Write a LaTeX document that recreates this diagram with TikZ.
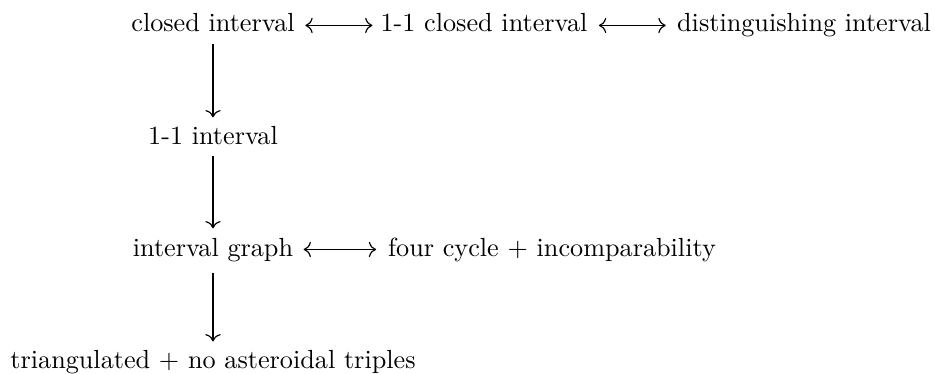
\documentclass[tikz,border=0pt]{standalone}
\usetikzlibrary{cd}
\begin{document}
\begin{tikzpicture}[x=0.3817pt,y=-0.3817pt,
  lbl/.style={inner sep=0pt,text height=6.94pt,text depth=1.94pt,font=\normalsize},
  dbl/.style={{cm to}-{cm to},line width=0.45pt},
  sgl/.style={-{cm to},line width=0.45pt}]
\useasboundingbox (0,0) rectangle (935,374);
\node[lbl,anchor=base] (A) at (213,32) {closed interval};
\node[lbl,anchor=base] (B) at (484,32) {1-1 closed interval};
\node[lbl,anchor=base] (C) at (804,32) {distinguishing interval};
\node[lbl,anchor=base] (D) at (213,145) {1-1 interval};
\node[lbl,anchor=base] (E) at (213,256) {interval graph};
\node[lbl,anchor=base] (F) at (552,256) {four cycle $+$ incomparability};
\node[lbl,anchor=base] (G) at (213,368) {triangulated $+$ no asteroidal triples};
\draw[dbl,shorten <=3.9pt,shorten >=2.9pt] (A.east) -- (B.west);
\draw[dbl,shorten <=4.2pt,shorten >=4.2pt] (B.east) -- (C.west);
\draw[dbl,shorten <=3.8pt,shorten >=4.4pt] (E.east) -- (F.west);
\draw[sgl,shorten <=2.3pt,shorten >=3.4pt] (A.south) -- (D.north);
\draw[sgl,shorten <=1.9pt,shorten >=3.4pt] (D.south) -- (E.north);
\draw[sgl,shorten <=4.2pt,shorten >=3pt] (E.south) -- (G.north);
\end{tikzpicture}
\end{document}
